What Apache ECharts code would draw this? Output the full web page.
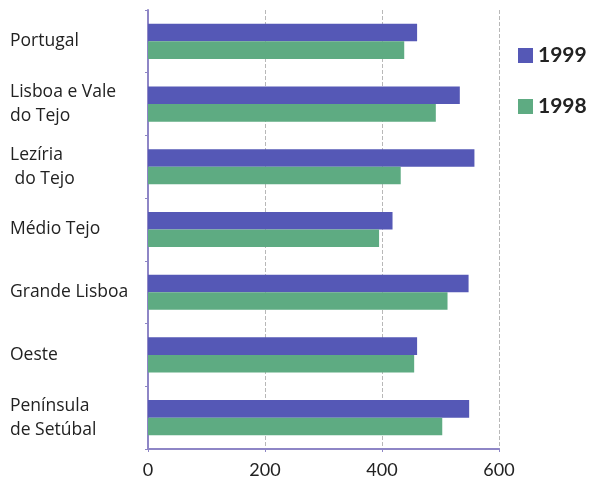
<!DOCTYPE html>
<html><head><meta charset="utf-8">
<script src="https://cdn.jsdelivr.net/npm/echarts@6/dist/echarts.min.js"></script>
<style>html,body{margin:0;padding:0;background:#fff}#c{width:589px;height:491px}</style>
</head><body><div id="c"></div>
<script>
const categories = ["Portugal", "Lisboa e Vale\ndo Tejo", "Lezíria\n do Tejo", "Médio Tejo", "Grande Lisboa", "Oeste", "Península\nde Setúbal"];
const values1999 = [460, 533, 558, 418, 548, 460, 549];
const values1998 = [438, 492, 432, 395, 512, 455, 503];
const xTicks = [0, 200, 400, 600];

const chart = echarts.init(document.getElementById('c'));
const font = 'Lato, "Open Sans", sans-serif';
chart.setOption({
  animation: false,
  grid: {left: 148, right: 90, top: 10, bottom: 42},
  legend: {
    orient: 'vertical', left: 513, top: 40, itemWidth: 15, itemHeight: 15, itemGap: 30,
    icon: 'rect',
    textStyle: {fontFamily: font, fontSize: 21, fontWeight: 'bold', color: '#222'},
    data: ['1999', '1998']
  },
  xAxis: {
    type: 'value', min: xTicks[0], max: xTicks[xTicks.length - 1], interval: 200,
    axisLine: {show: true, lineStyle: {color: '#8e86c6', width: 2}},
    axisTick: {show: true, length: 3, lineStyle: {color: '#8e86c6'}},
    splitLine: {show: true, lineStyle: {color: '#b8b8b8', type: 'dashed', width: 1}},
    axisLabel: {fontFamily: font, fontSize: 18, color: '#222', margin: 12}
  },
  yAxis: {
    type: 'category', inverse: true, data: categories,
    axisLine: {show: true, lineStyle: {color: '#8e86c6', width: 2}},
    axisTick: {show: true, length: 3, lineStyle: {color: '#8e86c6'}},
    axisLabel: {fontFamily: '"Open Sans", sans-serif', fontSize: 17.5, color: '#222', align: 'left', margin: 138, lineHeight: 24, padding: [4, 0, 0, 0]}
  },
  series: [
    {name: '1999', type: 'bar', data: values1999, barGap: '0%', barCategoryGap: '44%',
     itemStyle: {color: '#5558b6'}},
    {name: '1998', type: 'bar', data: values1998,
     itemStyle: {color: '#5eab82'}}
  ]
});
</script></body></html>
